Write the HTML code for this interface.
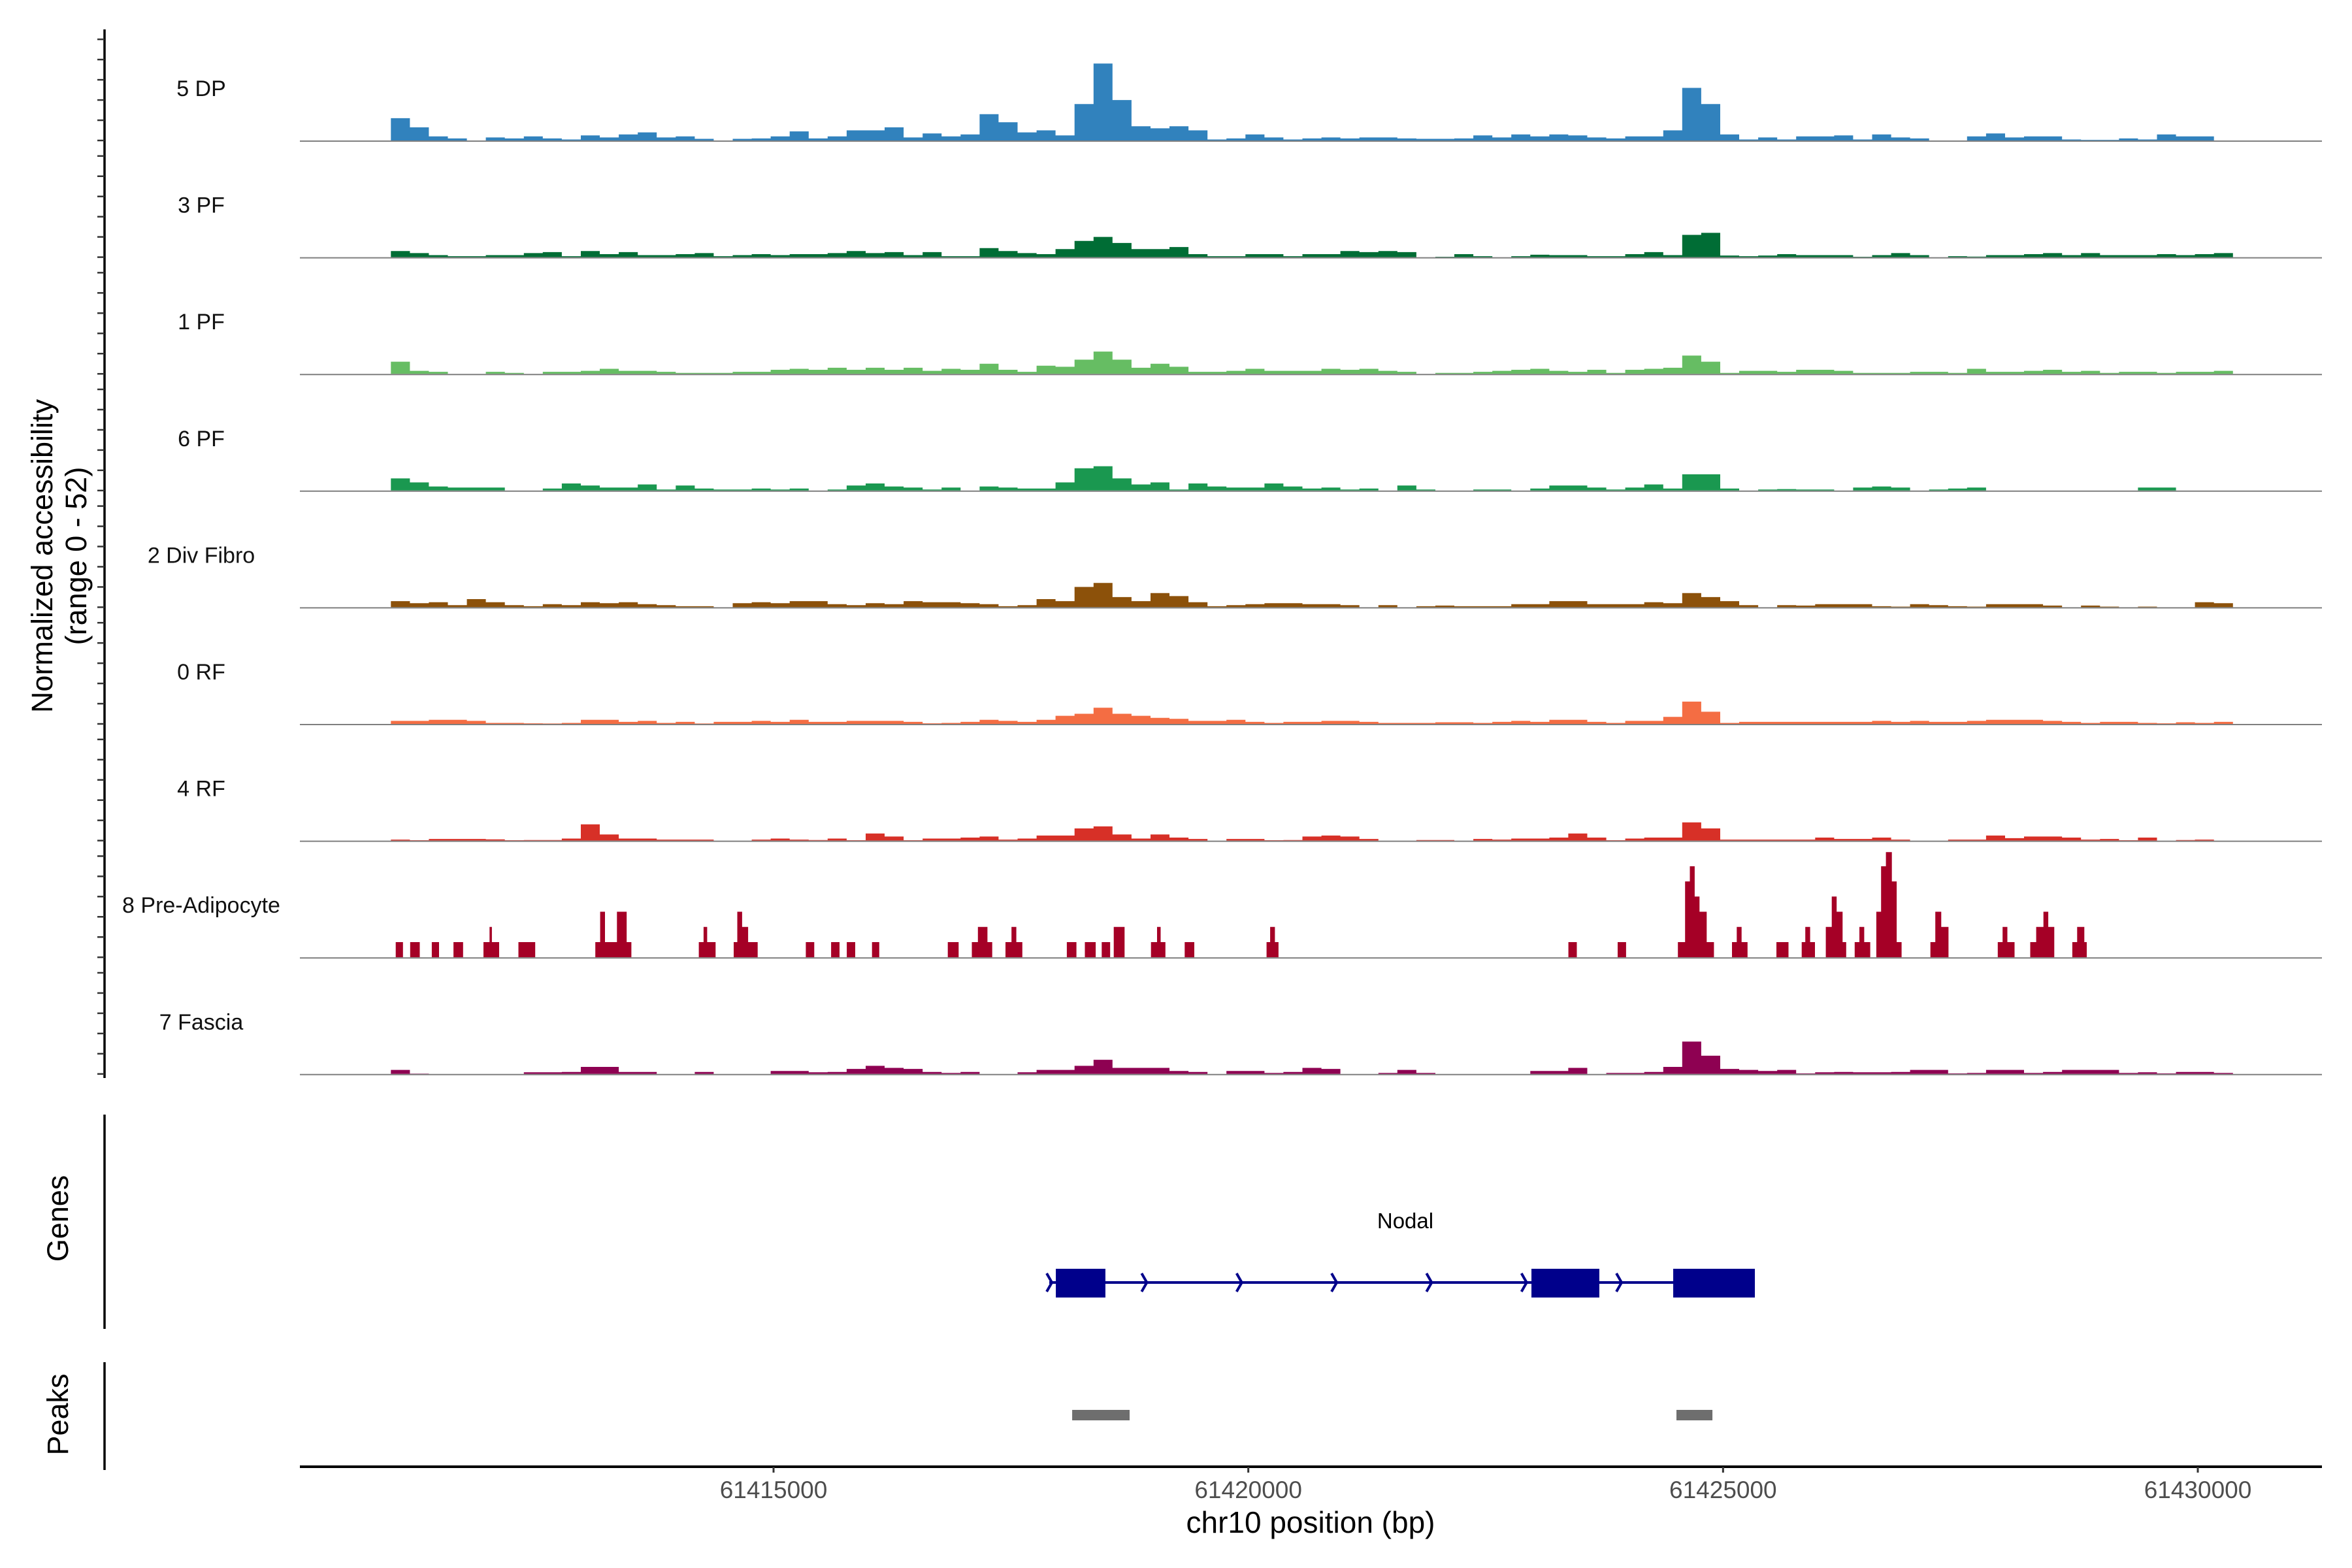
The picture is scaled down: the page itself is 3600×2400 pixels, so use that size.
<!DOCTYPE html>
<html>
<head>
<meta charset="utf-8">
<style>
html,body{margin:0;padding:0;background:#fff;}
svg{display:block;font-family:"Liberation Sans",Arial,sans-serif;}
</style>
</head>
<body>
<svg id="chart" width="3600" height="2400" viewBox="0 0 3600 2400" xmlns="http://www.w3.org/2000/svg">
  <rect x="0" y="0" width="3600" height="2400" fill="#fff"/>
  <g id="tracks"></g>
  <g id="genes"></g>
  <g id="peaks"></g>
  <g id="axes"></g>
</svg>
<script>
// ---------- data ----------
const regionStart = 61410970;
const binSize = 200;
const trackNames = ["5 DP","3 PF","1 PF","6 PF","2 Div Fibro","0 RF","4 RF","8 Pre-Adipocyte","7 Fascia"];
const trackColors = ["#3182BD","#006D35","#66BD63","#1A9850","#8C510A","#F46D43","#D73027","#A50026","#8E0152"];
const yMax = 52;
const dp5 = [11,6.5,2,1,0,1.5,1,2,1,0.5,2.5,1.5,3,4,1.5,2,0.8,0,0.8,1,2,4.5,1,2,5,5,6.5,1.5,3.5,2,3,13,9,4,5,2.5,18,38,20,7,6,7,5,0.5,1,3,1.5,0.5,1,1.5,1,1.5,1.5,1,0.8,0.8,1,2.5,1.5,3,2,3,2.5,1.5,1,2,2,5,26,18,3,0.5,1.5,0.5,2,2,2.5,0.5,3,1.5,1,0,0,2,3.5,1.5,2,2,0.5,0.3,0.3,1,0.5,3,2,2,0];
const pf3 = [3,2,1,0.5,0.5,1,1,2,2.5,0.5,3,1.5,2.5,1,1,1.5,2,0.5,1,1.5,1,1.5,1.5,2,3,2,2.5,1,2.5,0.5,0.5,4.5,3,2,1.5,4,8,10,7,4,4,5,1.5,0.5,0.5,1.5,1.5,0.5,1.5,1.5,3,2.5,3,2.5,0,0.2,1.5,0.5,0,0.5,1.2,1,1,0.5,0.5,1.5,2.5,1,11,12,0.8,0.5,0.8,1.5,1,1,1,0.2,1,2,1,0,0.5,0.3,1,1,1.5,2,1,2,1,1,1,1.5,1,1.5,2];
const pf1 = [6,1.5,1,0,0,1,0.5,0,1,1,1.5,2.5,1.5,1.5,1,0.5,0.5,0.5,1,1,2,2.5,2,3,2,3,2,3,1.5,2.5,2,5,2,1,4,3.5,7,11,7,3,5,3.5,1,1,1.5,2.5,1.5,1.5,1.5,2.5,2,2.5,1.5,1,0,0.5,0.5,1,1.5,2,2.5,1.5,1,2,0.5,2,2.5,3,9,6,0.5,1.5,1.5,1,2,2,1.5,0.5,0.5,0.5,1,1,0.5,2.5,1,1,1.5,2,1,1.5,0.5,1,1,0.5,1,1,1.5];
const pf6 = [6,4,2,1.5,1.5,1.5,0,0,1,3.5,2.5,1.5,1.5,3,0.5,2.5,1,0.5,0.5,1,0.5,1,0,0.5,2.5,3.5,2,1.5,0.5,1.5,0,2,1.5,1,1,4,11,12,6,3,4,0.5,3.5,2,1.5,1.5,3.5,2,1,1.5,0.5,1,0,2.5,0.5,0,0,0.5,0.5,0,1,2.5,2.5,1.5,0.5,1.5,3,1,8,8,1,0,0.5,0.7,0.5,0.5,0,1.5,2,1.5,0,0.5,1,1.5,0,0,0,0,0,0,0,0,1.5,1.5,0,0,0];
const divFibro = [3,2,2.5,1,4,2.5,1,0.5,1.5,1,2.5,2,2.5,1.5,1,0.5,0.5,0,2,2.5,2,3,3,1.5,1,2,1.5,3,2.5,2.5,2,1.5,0.5,1,4,3,10,12,5,3,7,5.5,2.5,0.5,1,1.5,2,2,1.5,1.5,1,0,1,0,0.5,0.8,0.5,0.5,0.5,1.5,1.5,3,3,1.5,1.5,1.5,2.5,2,7,5,3,1,0,1,0.8,1.5,1.5,1.5,0.5,0.3,1.5,1,0.5,0.3,1.5,1.5,1.5,0.8,0,0.8,0.3,0,0.3,0,0,2.5,2];
const rf0 = [1.5,1.5,2,2,1.5,0.5,0.5,0.3,0.2,0.5,2,2,1,1.5,0.5,1,0.2,1,1,1.5,1,2,1,1,1.5,1.5,1.5,1,0.3,0.5,1,2,1.5,1,2,4,5,8,5,4,3,2.5,1.5,1.5,2,1,0.5,1,1,1.5,1.5,1,0.5,0.5,0.5,0.8,0.8,0.5,1,1.5,1,2,2,1,0.5,1.5,1.5,3.5,11,6,0.5,1,1,1,1,1,1,1,1.5,1,1.5,1,1,1.5,2,2,2,1.5,1,0.5,1,1,0.5,0.3,0.8,0.5,1];
const rf4 = [0.5,0.2,0.8,0.8,0.8,0.6,0.2,0.3,0.3,1,8,3,1,1,0.5,0.5,0.5,0,0,0.5,1,0.5,0.3,1,0.2,3.5,2,0.2,1,1,1.5,2,0.5,1,2.5,2.5,6,7,3,1,3,1.5,0.8,0,0.8,0.8,0.2,0.3,2,2.5,2,0.8,0,0,0.3,0.3,0,0.8,0.5,1,1,1.5,3.5,1.5,0.2,1,1.5,1.5,9,6,0.5,0.5,0.5,0.5,0.5,1.5,0.8,0.8,1.5,0.5,0,0,0.5,0.5,2.5,1.2,2,2,1.5,0.5,0.8,0.2,1.5,0,0.3,0.5,0];
const fascia = [2,0.2,0,0,0,0,0,0.8,0.8,1,3.5,3.5,1,1,0,0,1,0,0,0,1.5,1.5,0.8,1,2.5,4,3,2.5,1,0.5,1,0,0,0.8,2,2,4,7,3,3,3,1.5,1,0,1.5,1.5,0.5,1,3,2.5,0,0,0.5,2,0.5,0,0,0,0,0,1.5,1.5,3,0,0.5,0.5,1,3.5,16,9,2.5,2,1.5,2,0.3,0.8,1,0.8,0.8,1,2,2,0.3,0.5,2,2,0.5,1,2,2,2,0.5,0.8,0.3,1,1,0.5];
// Pre-Adipocyte: sparse segments (bp offsets from regionStart)
const preStart = [51,203,431,659,975,1039,1064,1343,2153,2204,2255,2381,2483,3243,3293,3331,3610,3648,3699,3762,4370,4636,4801,5067,5865,6118,6182,6283,6473,6536,6587,7119,7309,7486,7613,8005,8069,8107,8360,9222,9260,9310,12401,12920,13554,13630,13680,13731,13782,13858,14124,14174,14225,14592,14858,14896,14947,15112,15175,15226,15289,15416,15466,15517,15644,15694,15745,15808,15859,16214,16265,16328,16923,16974,17024,17265,17328,17404,17455,17708,17759,17835];
const preEnd   = [127,304,507,760,1039,1064,1140,1520,2204,2255,2381,2483,2533,3293,3331,3420,3648,3699,3762,3863,4459,4725,4890,5143,5979,6182,6283,6333,6536,6587,6650,7220,7423,7575,7727,8069,8107,8157,8461,9260,9310,9348,12490,13009,13630,13680,13731,13782,13858,13934,14174,14225,14288,14719,14896,14947,14998,15175,15226,15289,15327,15466,15517,15580,15694,15745,15808,15859,15910,16265,16328,16404,16974,17024,17100,17328,17404,17455,17518,17759,17835,17860];
const preVal   = [7.5,7.5,7.5,7.5,7.5,15,7.5,7.5,7.5,22.5,7.5,22.5,7.5,7.5,15,7.5,7.5,22.5,15,7.5,7.5,7.5,7.5,7.5,7.5,7.5,15,7.5,7.5,15,7.5,7.5,7.5,7.5,15,7.5,15,7.5,7.5,7.5,15,7.5,7.5,7.5,7.5,37.5,45,30,22.5,7.5,7.5,15,7.5,7.5,7.5,15,7.5,15,30,22.5,7.5,7.5,15,7.5,22.5,45,52,37.5,7.5,7.5,22.5,15,7.5,15,7.5,7.5,15,22.5,15,7.5,15,7.5];
const binnedTracks = {0:dp5,1:pf3,2:pf1,3:pf6,4:divFibro,5:rf0,6:rf4,8:fascia};
// genes / peaks
const geneName = "Nodal";
const geneStart = 61417904, geneEnd = 61425335;
const exonStart = [61417973, 61422982, 61424475];
const exonEnd   = [61418495, 61423697, 61425335];
const peakStart = [61418145, 61424509];
const peakEnd   = [61418750, 61424888];
const xTicks = [61415000, 61420000, 61425000, 61430000];
const xTickLabels = ["61415000","61420000","61425000","61430000"];

// ---------- scales ----------
const NS = "http://www.w3.org/2000/svg";
const X0 = 1184, XK = (3364 - 1184) / 15000;
function xScale(bp){ return X0 + (bp - 61415000) * XK; }
const trackBase0 = 215, trackStep = 178.6, trackH = 161;
function baseY(i){ return trackBase0 + trackStep * i; }
function hScale(v){ return v / yMax * trackH; }
function mk(tag, attrs, parent){ const e = document.createElementNS(NS, tag); for (const k in attrs) e.setAttribute(k, attrs[k]); parent.appendChild(e); return e; }

const gT = document.getElementById('tracks');
const panelL = 459, panelR = 3554;

trackNames.forEach((name, i) => {
  const b = baseY(i);
  const g = mk('g', {}, gT);
  
  
  let d = '';
  if (binnedTracks[i]) {
    const vals = binnedTracks[i];
    d = 'M' + xScale(regionStart).toFixed(1) + ' ' + b;
    vals.forEach((v, k) => {
      const xa = xScale(regionStart + k * binSize), xb = xScale(regionStart + (k + 1) * binSize);
      const y = (b - hScale(v)).toFixed(1);
      d += ' L' + xa.toFixed(1) + ' ' + y + ' L' + xb.toFixed(1) + ' ' + y;
    });
    d += ' L' + xScale(regionStart + vals.length * binSize).toFixed(1) + ' ' + b + ' Z';
  } else {
    preStart.forEach((s, k) => {
      const xa = xScale(regionStart + s), xb = xScale(regionStart + preEnd[k]);
      const y = (b - hScale(preVal[k])).toFixed(1);
      d += 'M' + xa.toFixed(1) + ' ' + b + ' L' + xa.toFixed(1) + ' ' + y + ' L' + xb.toFixed(1) + ' ' + y + ' L' + xb.toFixed(1) + ' ' + b + ' Z ';
    });
  }
  const p = mk('path', {d: d, fill: trackColors[i], stroke: 'none'}, g);
  
  
  const ln = mk('line', {x1: panelL, x2: panelR, y1: b + 1, y2: b + 1, stroke: '#7f7f7f', 'stroke-width': 2}, g);
  
  
  const t = mk('text', {x: 308, y: b - 68, 'text-anchor': 'middle', 'font-size': 34, fill: '#111'}, g);
  t.textContent = name;
  
  
});

// ---------- axes ----------
const gA = document.getElementById('axes');
const yAxis = mk('line', {x1: 160, x2: 160, y1: 45, y2: 1650, stroke: '#000', 'stroke-width': 3.5}, gA);


const yTickVals = [0, 10, 20, 30, 40, 50];
trackNames.forEach((n, i) => {
  yTickVals.forEach(v => {
    const y = baseY(i) - hScale(v);
    const tk = mk('line', {x1: 149, x2: 160, y1: y, y2: y, stroke: '#333', 'stroke-width': 2.5}, gA);
    
    
  });
});
const yt = mk('text', {transform: 'translate(80,851) rotate(-90)', 'text-anchor': 'middle', 'font-size': 45, fill: '#000'}, gA);
yt.textContent = 'Normalized accessibility';


const yt2 = mk('text', {transform: 'translate(132,851) rotate(-90)', 'text-anchor': 'middle', 'font-size': 45, fill: '#000'}, gA);
yt2.textContent = '(range 0 - 52)';



const gAx = mk('line', {x1: 160, x2: 160, y1: 1706, y2: 2034, stroke: '#000', 'stroke-width': 3.5}, gA);


const gTitle = mk('text', {transform: 'translate(104,1865) rotate(-90)', 'text-anchor': 'middle', 'font-size': 45, fill: '#000'}, gA);
gTitle.textContent = 'Genes';


const pAx = mk('line', {x1: 160, x2: 160, y1: 2085, y2: 2250, stroke: '#000', 'stroke-width': 3.5}, gA);


const pTitle = mk('text', {transform: 'translate(104,2165) rotate(-90)', 'text-anchor': 'middle', 'font-size': 45, fill: '#000'}, gA);
pTitle.textContent = 'Peaks';



const xAxis = mk('line', {x1: panelL, x2: panelR, y1: 2245, y2: 2245, stroke: '#000', 'stroke-width': 4}, gA);


xTicks.forEach((v, k) => {
  const x = xScale(v);
  const tk = mk('line', {x1: x, x2: x, y1: 2245, y2: 2254, stroke: '#333', 'stroke-width': 3}, gA);
  
  
  const tl = mk('text', {x: x, y: 2293, 'text-anchor': 'middle', 'font-size': 37, fill: '#4d4d4d'}, gA);
  tl.textContent = xTickLabels[k];
  
  
});
const xt = mk('text', {x: 2006, y: 2346, 'text-anchor': 'middle', 'font-size': 46, fill: '#000'}, gA);
xt.textContent = 'chr10 position (bp)';



// ---------- genes ----------
const gG = document.getElementById('genes');
const gy = 1963;
const intron = mk('line', {x1: xScale(geneStart), x2: xScale(geneEnd), y1: gy, y2: gy, stroke: '#00008B', 'stroke-width': 4}, gG);


const arrowStep = 1000;
for (let bp = geneStart; bp < geneEnd; bp += arrowStep) {
  const x = xScale(bp);
  const ar = mk('polyline', {points: (x - 4) + ',' + (gy - 14) + ' ' + (x + 4) + ',' + gy + ' ' + (x - 4) + ',' + (gy + 14), fill: 'none', stroke: '#00008B', 'stroke-width': 4}, gG);
  
  
}
exonStart.forEach((s, k) => {
  const r = mk('rect', {x: xScale(s), y: 1942, width: xScale(exonEnd[k]) - xScale(s), height: 44, fill: '#00008B'}, gG);
  
  
});
const gn = mk('text', {x: 2151, y: 1880, 'text-anchor': 'middle', 'font-size': 33, fill: '#000'}, gG);
gn.textContent = geneName;



// ---------- peaks ----------
const gP = document.getElementById('peaks');
peakStart.forEach((s, k) => {
  const r = mk('rect', {x: xScale(s), y: 2158, width: xScale(peakEnd[k]) - xScale(s), height: 16, fill: '#6e6e6e'}, gP);
  
  
});
</script>
</body>
</html>
